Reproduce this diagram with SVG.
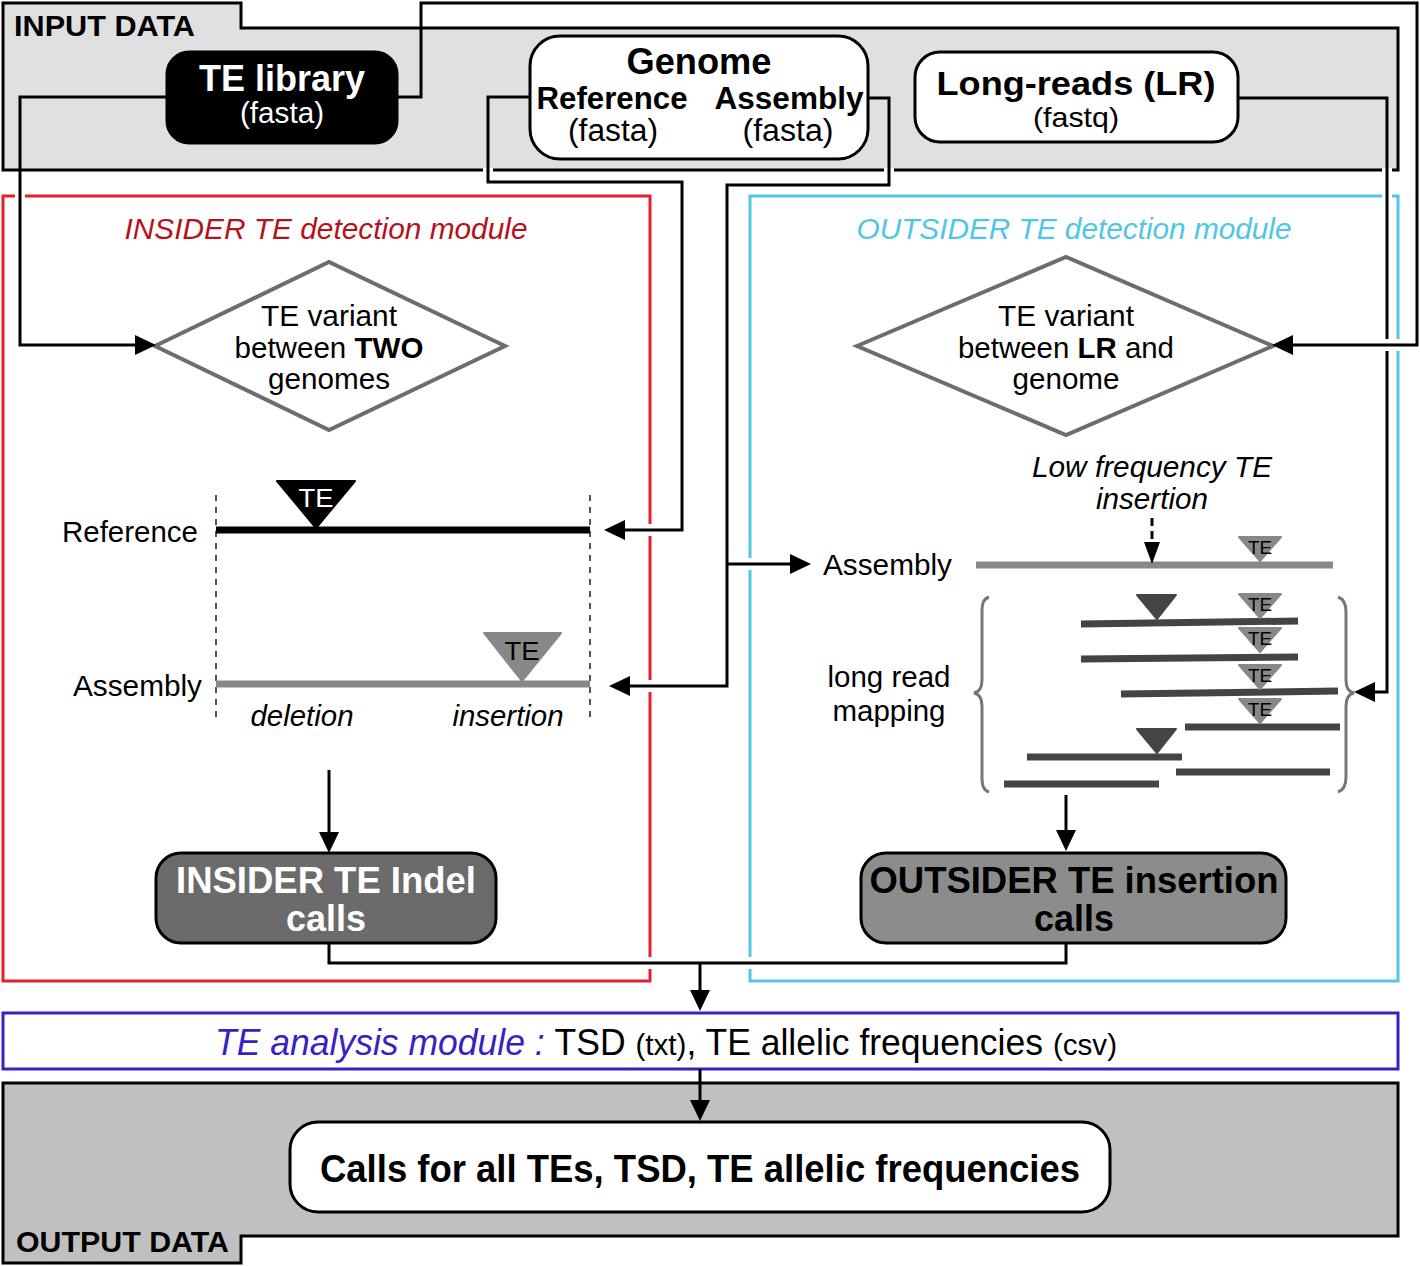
<svg xmlns="http://www.w3.org/2000/svg" width="1420" height="1266" viewBox="0 0 1420 1266">
<defs>
<marker id="ah" markerUnits="userSpaceOnUse" markerWidth="21" markerHeight="20" refX="10" refY="10" orient="auto"><path d="M0,0 L21,10 L0,20 Z" fill="#000"/></marker>
<marker id="ahs" markerUnits="userSpaceOnUse" markerWidth="22" markerHeight="16" refX="10" refY="8" orient="auto"><path d="M0,0 L22,8 L0,16 Z" fill="#000"/></marker>
</defs>
<style>
text{font-family:"Liberation Sans",Arial,Helvetica,sans-serif;fill:#000}
.b{font-weight:bold}
.i{font-style:italic}
.m{text-anchor:middle}
.e{text-anchor:end}
.t30{font-size:30px}
.t36{font-size:36px}
.w{fill:#fff}
.conn{fill:none;stroke:#000;stroke-width:3}
.arr{marker-end:url(#ah)}
.gap{fill:#fff}
.node{stroke:#000;stroke-width:3}
.dia{fill:#fff;stroke:#6d6d6d;stroke-width:4}
.read{stroke:#444;stroke-width:7}
.tri-g{fill:#888;stroke:#888;stroke-width:2;stroke-linejoin:round}
.tri-d{fill:#444;stroke:#444;stroke-width:2;stroke-linejoin:round}
.te-s{font-size:19px;text-anchor:middle}
.dash{stroke:#555;stroke-width:2;stroke-dasharray:6 6}
.brace{fill:none;stroke:#777;stroke-width:3}
</style>
<rect width="1420" height="1266" fill="#fff"/>

<g id="input-panel">
<path d="M3,3 H241 V28 H1398 V170 H3 Z" fill="#e0e0e0" stroke="#000" stroke-width="3"/>
<text x="14" y="36" class="b t30" textLength="181" lengthAdjust="spacingAndGlyphs">INPUT DATA</text>
</g>

<g id="te-library">
<rect x="167" y="52" width="230" height="91" rx="22" fill="#000" class="node"/>
<text x="282" y="91" class="b t36 m w" textLength="166" lengthAdjust="spacingAndGlyphs">TE library</text>
<text x="282" y="123" class="m w" font-size="29" textLength="84" lengthAdjust="spacingAndGlyphs">(fasta)</text>
</g>

<g id="genome">
<rect x="530" y="36" width="338" height="123" rx="30" fill="#fff" class="node"/>
<text x="699" y="74" class="b t36 m" textLength="145" lengthAdjust="spacingAndGlyphs">Genome</text>
<text x="612" y="109" class="b m" font-size="31" textLength="151" lengthAdjust="spacingAndGlyphs">Reference</text>
<text x="789" y="109" class="b m" font-size="31" textLength="149" lengthAdjust="spacingAndGlyphs">Assembly</text>
<text x="613" y="141" class="m" font-size="31" textLength="90" lengthAdjust="spacingAndGlyphs">(fasta)</text>
<text x="788" y="141" class="m" font-size="31" textLength="91" lengthAdjust="spacingAndGlyphs">(fasta)</text>
</g>

<g id="long-reads">
<rect x="915" y="52" width="323" height="90" rx="25" fill="#fff" class="node"/>
<text x="1076" y="95" class="b m" font-size="34" textLength="279" lengthAdjust="spacingAndGlyphs">Long-reads (LR)</text>
<text x="1076" y="127" class="m" font-size="28" textLength="86" lengthAdjust="spacingAndGlyphs">(fastq)</text>
</g>

<g id="insider-module">
<rect x="3" y="196" width="647" height="785" fill="none" stroke="#e31e2d" stroke-width="3"/>
<text x="326" y="239" class="i t30 m" style="fill:#b5121b" textLength="403" lengthAdjust="spacingAndGlyphs">INSIDER TE detection module</text>
</g>

<g id="outsider-module">
<rect x="750" y="196" width="648" height="785" fill="none" stroke="#52c7e6" stroke-width="3"/>
<text x="1074" y="239" class="i t30 m" style="fill:#4ec6e6" textLength="435" lengthAdjust="spacingAndGlyphs">OUTSIDER TE detection module</text>
</g>

<g id="insider-diamond">
<polygon points="155,346 329,262 505,346 329,430" class="dia"/>
<text x="329" y="326" class="t30 m" textLength="136" lengthAdjust="spacingAndGlyphs">TE variant</text>
<text x="329" y="358" class="t30 m" textLength="189" lengthAdjust="spacingAndGlyphs">between <tspan class="b">TWO</tspan></text>
<text x="329" y="389" class="t30 m" textLength="122" lengthAdjust="spacingAndGlyphs">genomes</text>
</g>

<g id="outsider-diamond">
<polygon points="857,346 1066,257 1273,346 1066,435" class="dia"/>
<text x="1066" y="326" class="t30 m" textLength="136" lengthAdjust="spacingAndGlyphs">TE variant</text>
<text x="1066" y="358" class="t30 m" textLength="216" lengthAdjust="spacingAndGlyphs">between <tspan class="b">LR</tspan> and</text>
<text x="1066" y="389" class="t30 m" textLength="107" lengthAdjust="spacingAndGlyphs">genome</text>
</g>

<g id="insider-schema">
<line x1="216" y1="495" x2="216" y2="722" class="dash"/>
<line x1="590" y1="495" x2="590" y2="722" class="dash"/>
<line x1="216" y1="530" x2="590" y2="530" stroke="#000" stroke-width="7"/>
<line x1="216" y1="684" x2="590" y2="684" stroke="#888" stroke-width="7"/>
<polygon points="277,481 355,481 316,528" fill="#000" stroke="#000" stroke-width="2" stroke-linejoin="round"/>
<text x="316" y="507" class="m w" font-size="26" textLength="35" lengthAdjust="spacingAndGlyphs">TE</text>
<polygon points="484,633 561,633 522,681" class="tri-g"/>
<text x="522" y="660" class="m" font-size="26" textLength="35" lengthAdjust="spacingAndGlyphs">TE</text>
<text x="198" y="542" class="t30 e" textLength="136" lengthAdjust="spacingAndGlyphs">Reference</text>
<text x="202" y="696" class="t30 e" textLength="129" lengthAdjust="spacingAndGlyphs">Assembly</text>
<text x="302" y="726" class="t30 m i" textLength="103" lengthAdjust="spacingAndGlyphs">deletion</text>
<text x="508" y="726" class="t30 m i" textLength="111" lengthAdjust="spacingAndGlyphs">insertion</text>
</g>

<g id="outsider-schema">
<text x="1152" y="477" class="t30 m i" textLength="240" lengthAdjust="spacingAndGlyphs">Low frequency TE</text>
<text x="1152" y="509" class="t30 m i" textLength="112" lengthAdjust="spacingAndGlyphs">insertion</text>
<text x="823" y="575" class="t30" textLength="129" lengthAdjust="spacingAndGlyphs">Assembly</text>
<text x="889" y="687" class="t30 m" textLength="123" lengthAdjust="spacingAndGlyphs">long read</text>
<text x="889" y="721" class="t30 m" textLength="113" lengthAdjust="spacingAndGlyphs">mapping</text>
<line x1="976" y1="565" x2="1333" y2="565" stroke="#888" stroke-width="7"/>
<polygon points="1239,537 1281,537 1260,561" class="tri-g"/>
<text x="1260" y="554" class="te-s" textLength="24" lengthAdjust="spacingAndGlyphs">TE</text>
<path d="M989,597 C983,599 982,604 982,612 L982,680 C982,688 979,692 974,693 C979,694 982,698 982,706 L982,777 C982,785 983,790 989,792" class="brace"/>
<path d="M1338,597 C1344,599 1346,604 1346,612 L1346,680 C1346,688 1349,692 1354,693 C1349,694 1346,698 1346,706 L1346,777 C1346,785 1344,790 1338,792" class="brace"/>
<line x1="1081" y1="624" x2="1298" y2="621" class="read"/>
<line x1="1081" y1="659" x2="1298" y2="657" class="read"/>
<line x1="1121" y1="694" x2="1338" y2="691" class="read"/>
<line x1="1185" y1="727" x2="1340" y2="727" class="read"/>
<line x1="1027" y1="757" x2="1182" y2="757" class="read"/>
<line x1="1176" y1="772" x2="1330" y2="772" class="read"/>
<line x1="1004" y1="784" x2="1159" y2="784" class="read"/>
<polygon points="1137,595 1176,595 1157,619" class="tri-d"/>
<polygon points="1137,729 1176,729 1157,753" class="tri-d"/>
<polygon points="1239,594 1281,594 1260,618" class="tri-g"/>
<text x="1260" y="611" class="te-s" textLength="24" lengthAdjust="spacingAndGlyphs">TE</text>
<polygon points="1239,628 1281,628 1260,652" class="tri-g"/>
<text x="1260" y="645" class="te-s" textLength="24" lengthAdjust="spacingAndGlyphs">TE</text>
<polygon points="1239,665 1281,665 1260,689" class="tri-g"/>
<text x="1260" y="682" class="te-s" textLength="24" lengthAdjust="spacingAndGlyphs">TE</text>
<polygon points="1239,699 1281,699 1260,723" class="tri-g"/>
<text x="1260" y="716" class="te-s" textLength="24" lengthAdjust="spacingAndGlyphs">TE</text>
</g>

<g id="insider-calls">
<rect x="156" y="853" width="340" height="90" rx="25" fill="#6b6b6b" class="node"/>
<text x="326" y="893" class="b m w" font-size="37" textLength="300" lengthAdjust="spacingAndGlyphs">INSIDER TE Indel</text>
<text x="326" y="931" class="b m w" font-size="37" textLength="80" lengthAdjust="spacingAndGlyphs">calls</text>
</g>

<g id="outsider-calls">
<rect x="861" y="853" width="425" height="90" rx="25" fill="#8c8c8c" class="node"/>
<text x="1074" y="893" class="b m" font-size="37" textLength="409" lengthAdjust="spacingAndGlyphs">OUTSIDER TE insertion</text>
<text x="1074" y="931" class="b m" font-size="37" textLength="80" lengthAdjust="spacingAndGlyphs">calls</text>
</g>

<g id="te-analysis">
<rect x="3" y="1013" width="1395" height="56" fill="#fff" stroke="#3a1fc1" stroke-width="3"/>
<text x="215" y="1055" font-size="36" textLength="902" lengthAdjust="spacingAndGlyphs"><tspan class="i" style="fill:#3a1fc4">TE analysis module : </tspan><tspan>TSD </tspan><tspan font-size="30">(txt)</tspan><tspan>, TE allelic frequencies </tspan><tspan font-size="30">(csv)</tspan></text>
</g>

<g id="output-panel">
<path d="M3,1083 H1398 V1236 H241 V1263 H3 Z" fill="#c0c0c0" stroke="#000" stroke-width="3"/>
<text x="16" y="1252" class="b t30" textLength="213" lengthAdjust="spacingAndGlyphs">OUTPUT DATA</text>
</g>

<g id="final-calls">
<rect x="290" y="1122" width="820" height="90" rx="28" fill="#fff" class="node"/>
<text x="700" y="1182" class="b m" font-size="38" textLength="760" lengthAdjust="spacingAndGlyphs">Calls for all TEs, TSD, TE allelic frequencies</text>
</g>

<g id="gaps">
<rect x="15" y="192" width="10" height="8" class="gap"/>
<rect x="483" y="168" width="10" height="5" class="gap"/>
<rect x="884" y="168" width="10" height="5" class="gap"/>
<rect x="1382" y="168" width="10" height="5" class="gap"/>
<rect x="1382" y="193" width="10" height="6" class="gap"/>
<rect x="646" y="524" width="8" height="12" class="gap"/>
<rect x="646" y="680" width="8" height="12" class="gap"/>
<rect x="646" y="957" width="8" height="12" class="gap"/>
<rect x="746" y="558" width="8" height="12" class="gap"/>
<rect x="746" y="957" width="8" height="12" class="gap"/>
</g>

<g id="connectors">
<path d="M167,97 H20 V345 H145" class="conn arr"/>
<path d="M530,97 H488 V182 H682 V530 H615" class="conn arr"/>
<path d="M868,98 H889 V185 H727 V686 H620" class="conn arr"/>
<path d="M727,564 H800" class="conn arr"/>
<path d="M1238,98 H1387 V692 H1365" class="conn arr"/>
<rect x="1381" y="339" width="22" height="12" class="gap"/>
<path d="M397,97 H421 V3 H1417 V345 H1283" class="conn arr"/>
<path d="M1152,518 V548" class="conn" stroke-dasharray="8 5"/>
<path d="M1152,548 V552" class="conn" marker-end="url(#ahs)"/>
<path d="M329,770 V842" class="conn arr"/>
<path d="M1066,795 V840" class="conn arr"/>
<path d="M329,943 V963 H1066 V943" class="conn"/>
<path d="M700,963 V1000" class="conn arr"/>
<path d="M700,1069 V1110" class="conn arr"/>
</g>
</svg>
